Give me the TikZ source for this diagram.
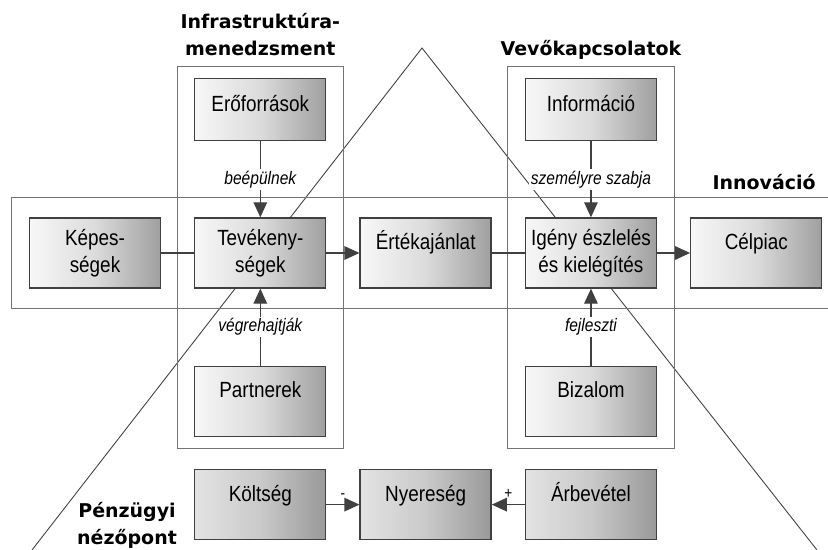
\documentclass[tikz,border=0pt]{standalone}
\usepackage{fontspec}
\setmainfont{Liberation Sans}
\newfontfamily\boxfont[FakeStretch=0.86]{Liberation Sans}
\newfontfamily\headfont{DejaVu Sans}
\usepackage{tikz}
\usetikzlibrary{positioning}
\usetikzlibrary{fit}
\usetikzlibrary{arrows.meta}
\definecolor{edgegray}{gray}{0.25}
\definecolor{framegray}{gray}{0.45}
\tikzset{block/.style={rectangle, draw=edgegray, line width=0.75pt, minimum width=2.62cm, minimum height=1.4cm, inner sep=1pt, align=center, left color=gray!6, right color=gray!75, middle color=gray!28, font=\boxfont\fontsize{12.5}{15.3}\selectfont}}
\tikzset{oneline/.style={text height=0.3cm, text depth=0.44cm}}
\tikzset{short/.style={minimum height=1.24cm, text depth=0.22cm}}
\tikzset{money/.style={left color=gray!22, right color=gray!80, middle color=gray!42}}
\tikzset{frame/.style={draw=framegray, line width=0.55pt, inner xsep=0.34cm, inner ysep=0.23cm}}
\tikzset{verb/.style={fill=white, inner sep=1pt, font=\boxfont\itshape\fontsize{10.3}{12}\selectfont}}
\tikzset{sign/.style={inner sep=1pt, above=2pt, font=\boxfont\fontsize{9}{10}\selectfont}}
\tikzset{title/.style={inner sep=0pt, align=center, font=\headfont\bfseries\fontsize{10.8}{15.3}\selectfont}}
\tikzset{link/.style={draw=edgegray, line width=0.7pt}}
\tikzset{arr/.style={link, -{Triangle[length=0.3cm, width=0.27cm]}}}
\tikzset{leg/.style={draw=edgegray, line width=0.5pt}}

\begin{document}
\begin{tikzpicture}[node distance=0.66cm]
\useasboundingbox (0,0) rectangle (16.56,11);
\coordinate (apex) at (8.44,10.04);
\coordinate (legL) at (0.64,0);
\coordinate (legR) at (16.34,0);
\draw[leg] (legL) -- (apex) -- (legR);

\node[block] (kep) at (1.9,5.94) {Képes-\\ségek};
\node[block, right=of kep] (tev) {Tevékeny-\\ségek};
\node[block, oneline, right=of tev] (ert) {Értékajánlat};
\node[block, right=of ert] (igeny) {Igény észlelés\\és kielégítés};
\node[block, oneline, right=of igeny] (cel) {Célpiac};

\node[block, oneline, short, above=1.52cm of tev] (eroforr) {Erőforrások};
\node[block, oneline, short, above=1.52cm of igeny] (info) {Információ};
\node[block, oneline, below=1.54cm of tev] (partner) {Partnerek};
\node[block, oneline, below=1.54cm of igeny] (bizalom) {Bizalom};

\node[block, oneline, money, below=0.64cm of partner] (koltseg) {Költség};
\node[block, oneline, money, right=of koltseg] (nyer) {Nyereség};
\node[block, oneline, money, right=of nyer] (arbev) {Árbevétel};

\node[frame, fit=(eroforr)(partner)] (infra) {};
\node[frame, fit=(info)(bizalom)] (vevo) {};
\node[frame, inner ysep=0.4cm, fit=(kep)(cel)] (innov) {};

\node[title, above=0.2cm of infra] (infratitle) {Infrastruktúra-\\menedzsment};
\node[title, above=0.12cm of vevo] (vevotitle) {Vevőkapcsolatok};
\node[title, anchor=base east] (innovtitle) at (16.32,7.2) {Innováció};
\node[title, anchor=south] (penzt) at (2.54,0.03) {Pénzügyi\\nézőpont};

 \draw[link] (kep) -- (tev);
 \draw[arr] (tev) -- (ert);
 \draw[link] (ert) -- (igeny);
 \draw[arr] (igeny) -- (cel);
 \draw[arr] (eroforr) -- node[verb] {beépülnek} (tev);
 \draw[arr] (partner) -- node[verb] {végrehajtják} (tev);
 \draw[arr] (info) -- node[verb] {személyre szabja} (igeny);
 \draw[arr] (bizalom) -- node[verb] {fejleszti} (igeny);
 \draw[arr] (koltseg) -- node[sign] {-} (nyer);
 \draw[arr] (arbev) -- node[sign] {+} (nyer);

\end{tikzpicture}
\end{document}
